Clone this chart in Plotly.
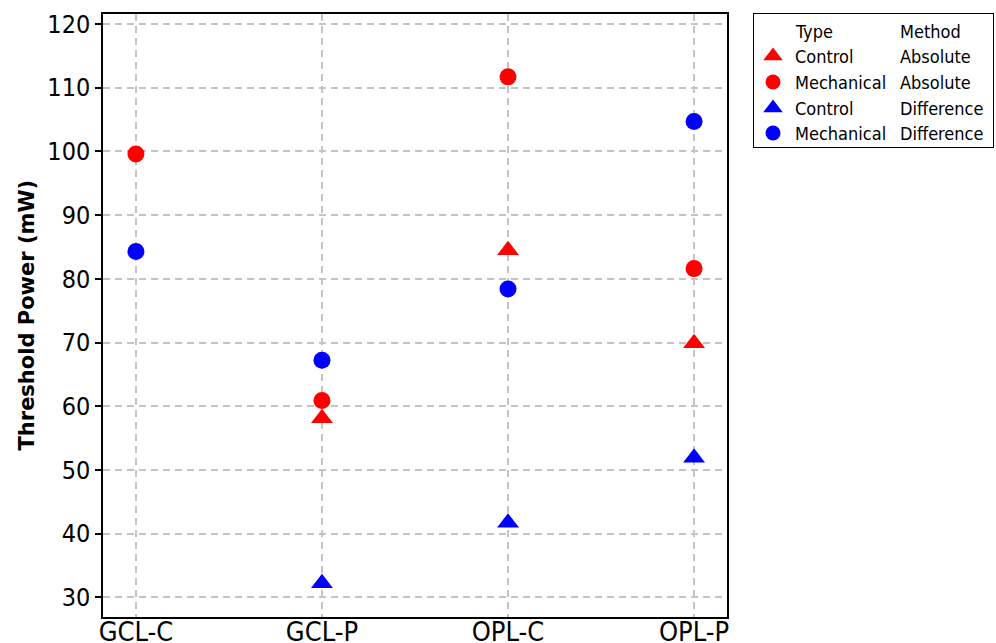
import plotly.graph_objects as go

# Threshold power by retinal layer / condition
layers = ["GCL-C", "GCL-P", "OPL-C", "OPL-P"]

control_absolute = [None, 58.1, 84.5, 69.9]
mechanical_absolute = [99.6, 60.9, 111.7, 81.6]
control_difference = [None, 32.2, 41.7, 51.9]
mechanical_difference = [84.3, 67.2, 78.4, 104.7]

series = [
    ("Control", "Absolute", control_absolute, "triangle-up", "#ff0000"),
    ("Mechanical", "Absolute", mechanical_absolute, "circle", "#ff0000"),
    ("Control", "Difference", control_difference, "triangle-up", "#0000ff"),
    ("Mechanical", "Difference", mechanical_difference, "circle", "#0000ff"),
]

FONT = "DejaVu Sans Condensed, DejaVu Sans, sans-serif"

fig = go.Figure()

for type_name, method, values, symbol, color in series:
    fig.add_trace(go.Scatter(
        x=layers, y=values, mode="markers",
        name=f"{type_name} {method}",
        marker=dict(symbol=symbol, color=color, opacity=1,
                    size=19 if symbol == "triangle-up" else 17, line=dict(width=0)),
        showlegend=False, xaxis="x", yaxis="y",
    ))

# Legend panel drawn on its own small axes: marker column + Type / Method text
legend_rows = [17, 42, 68, 94, 119]
fig.add_trace(go.Scatter(
    x=[19] * 4, y=legend_rows[1:], mode="markers",
    marker=dict(symbol=[s[3] for s in series], color=[s[4] for s in series],
                size=[17, 15, 17, 15], opacity=1, line=dict(width=0)),
    showlegend=False, xaxis="x2", yaxis="y2", hoverinfo="skip",
))

annotations = []
header = ("Type", "Method")
rows = [header] + [(s[0], s[1]) for s in series]
for ry, (t, m) in zip(legend_rows, rows):
    for ax, txt in ((39, t), (144, m)):
        annotations.append(dict(
            x=ax, y=ry, xref="x2", yref="y2", text=txt, showarrow=False,
            xanchor="left", yanchor="middle",
            font=dict(family=FONT, size=18, color="#000000"),
        ))

# y-axis title placed as a rotated annotation left of the tick labels
annotations.append(dict(
    x=(26 - 103) / 892, y=0.5, xref="paper", yref="paper",
    text="<b>Threshold Power (mW)</b>", textangle=-90, showarrow=False,
    xanchor="center", yanchor="middle",
    font=dict(family="DejaVu Sans, sans-serif", size=21, color="#000000"),
))

grid_kw = dict(showgrid=True, gridcolor="#c4c4c4", griddash="7px,5px", gridwidth=1.5)

fig.update_layout(
    width=996, height=643,
    margin=dict(l=103, r=1, t=14, b=26, autoexpand=False),
    plot_bgcolor="#ffffff", paper_bgcolor="#ffffff",
    font=dict(family=FONT, color="#000000"),
    annotations=annotations,
    xaxis=dict(
        domain=[0, 624 / 892], type="category", categoryorder="array",
        categoryarray=layers, range=[-0.177, 3.177], automargin=False,
        showline=True, linecolor="#000000", linewidth=1.5, mirror=True,
        ticks="", ticklabelstandoff=-10,
        tickfont=dict(family=FONT, size=27, color="#000000"),
        zeroline=False, **grid_kw,
    ),
    yaxis=dict(
        range=[26.91, 121.57], tickvals=[30, 40, 50, 60, 70, 80, 90, 100, 110, 120],
        automargin=False,
        showline=True, linecolor="#000000", linewidth=1.5, mirror=True,
        ticks="outside", ticklen=6, tickwidth=1.5, tickcolor="#000000",
        tickfont=dict(family=FONT, size=25, color="#000000"),
        zeroline=False, **grid_kw,
    ),
    xaxis2=dict(
        domain=[(754 - 103) / 892, (993 - 103) / 892], anchor="y2",
        range=[0, 239], showgrid=False, zeroline=False, showticklabels=False,
        ticks="", showline=True, linecolor="#000000", linewidth=1, mirror=True,
        fixedrange=True, automargin=False,
    ),
    yaxis2=dict(
        domain=[(617 - 147) / 603, 1.0], anchor="x2",
        range=[133, 0], showgrid=False, zeroline=False, showticklabels=False,
        ticks="", showline=True, linecolor="#000000", linewidth=1, mirror=True,
        fixedrange=True, automargin=False,
    ),
)

fig.write_html("out.html")
